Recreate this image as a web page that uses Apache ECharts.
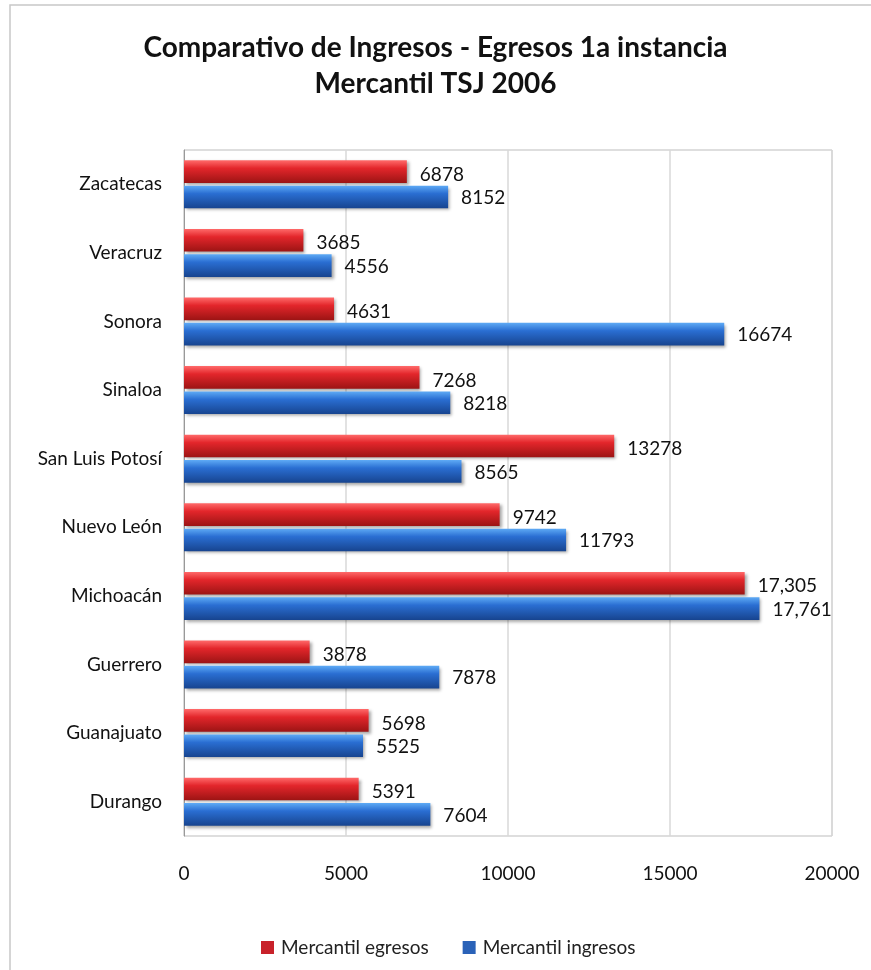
<!DOCTYPE html>
<html><head><meta charset="utf-8">
<script src="https://cdn.jsdelivr.net/npm/echarts@6/dist/echarts.min.js"></script>
<style>html,body{margin:0;padding:0;background:#fff}#c{width:871px;height:970px}</style>
</head><body><div id="c"></div>
<script>
const categories = ['Durango','Guanajuato','Guerrero','Michoacán','Nuevo León','San Luis Potosí','Sinaloa','Sonora','Veracruz','Zacatecas'];
const egresos = [5391,5698,3878,17305,9742,13278,7268,4631,3685,6878];
const ingresos = [7604,5525,7878,17761,11793,8565,8218,16674,4556,8152];
const commaCategories = ['Michoacán'];
const xTicks = [0,5000,10000,15000,20000];

const font = 'Lato, "Open Sans", sans-serif';
function grad(c1,c2,c3){
  return new echarts.graphic.LinearGradient(0,0,0,1,[
    {offset:0,color:c1},{offset:0.35,color:c2},{offset:1,color:c3}]);
}
function fmt(p){
  return commaCategories.includes(p.name) ? p.value.toLocaleString('en-US') : String(p.value);
}
const chart = echarts.init(document.getElementById('c'));
chart.setOption({
  animation:false,
  backgroundColor:'#fff',
  graphic:[{type:'rect',shape:{x:10,y:5,width:880,height:990},style:{fill:'none',stroke:'#c8c8c8',lineWidth:1.5},silent:true}],
  title:{text:'Comparativo de Ingresos - Egresos 1a instancia\nMercantil TSJ 2006',left:'center',top:25,
    textStyle:{fontFamily:font,fontWeight:'bold',fontSize:28,lineHeight:36,color:'#111'}},
  legend:{top:933,left:256,itemWidth:13,itemHeight:13,itemGap:34,icon:'rect',
    textStyle:{fontFamily:font,fontSize:19,color:'#222',padding:[0,0,0,2]},
    data:[{name:'Mercantil egresos',itemStyle:{color:'#c8222a'}},{name:'Mercantil ingresos',itemStyle:{color:'#2a62b8'}}]},
  grid:{left:184,right:39,top:150,bottom:134,show:true,borderColor:'#bdbdbd',borderWidth:1},
  xAxis:{type:'value',min:0,max:20000,interval:5000,
    axisLine:{show:false},axisTick:{show:false},
    axisLabel:{margin:28,fontFamily:font,fontSize:19,color:'#111',formatter:v=>String(v)},
    splitLine:{lineStyle:{color:'#d8d8d8',width:1.5}}},
  yAxis:{type:'category',data:categories,
    axisLine:{show:true,lineStyle:{color:'#999'}},axisTick:{show:false},
    axisLabel:{margin:22,fontFamily:font,fontSize:19,color:'#111'}},
  series:[
    {name:'Mercantil egresos',type:'bar',data:egresos,barGap:'12%',barCategoryGap:'30%',
      itemStyle:{color:grad('#ff6a6a','#e3262b','#9c1414'),shadowColor:'rgba(0,0,0,0.35)',shadowBlur:3,shadowOffsetX:2,shadowOffsetY:2},
      label:{show:true,position:'right',distance:13,offset:[0,3],formatter:fmt,fontFamily:font,fontSize:19,color:'#111'}},
    {name:'Mercantil ingresos',type:'bar',data:ingresos,
      itemStyle:{color:grad('#5eaaf5','#2a6ed2','#17448f'),shadowColor:'rgba(0,0,0,0.35)',shadowBlur:3,shadowOffsetX:2,shadowOffsetY:2},
      label:{show:true,position:'right',distance:13,offset:[0,1],formatter:fmt,fontFamily:font,fontSize:19,color:'#111'}}
  ]
});
</script></body></html>
